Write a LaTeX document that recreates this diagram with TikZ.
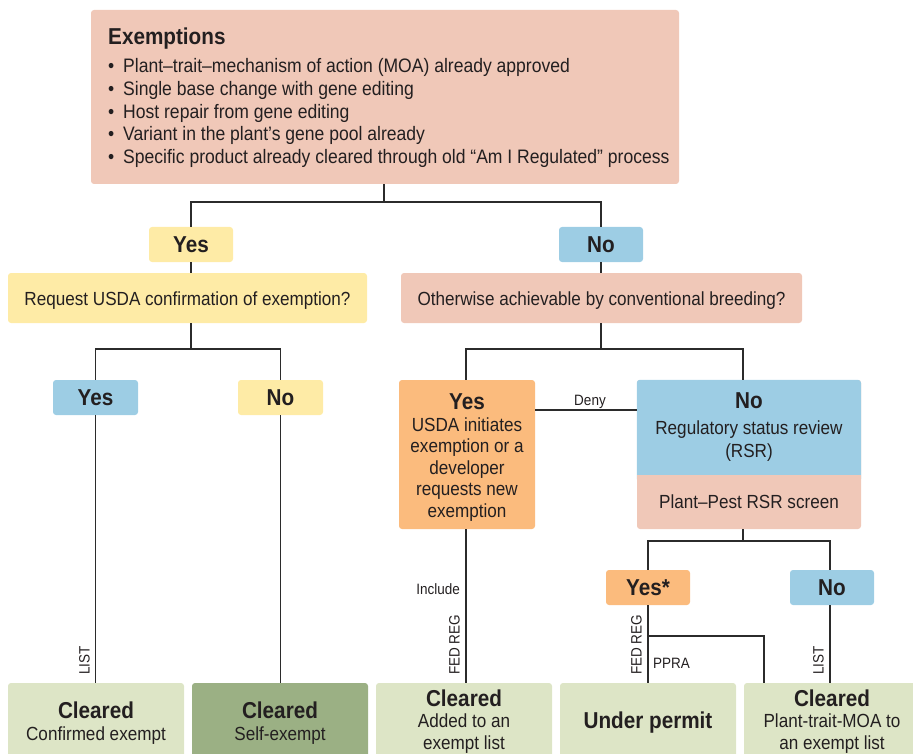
\documentclass[tikz,border=0pt]{standalone}
\usepackage{fontspec}
\setmainfont{Liberation Sans}[FakeStretch=0.9]
\definecolor{salmon}{HTML}{F0C8B8}
\definecolor{yel}{HTML}{FEEBA6}
\definecolor{blu}{HTML}{9DCDE4}
\definecolor{ora}{HTML}{FBBB7D}
\definecolor{lgreen}{HTML}{DDE5C6}
\definecolor{dgreen}{HTML}{9BB084}
\definecolor{txt}{HTML}{231F20}
\definecolor{ln}{HTML}{2B2B2B}
\newcommand\rg{\fontsize{19}{21.5}\selectfont}
\newcommand\rgb{\fontsize{19.5}{21.5}\selectfont}
\newcommand\bd{\fontsize{23}{24}\selectfont\bfseries}
\newcommand\sm{\fontsize{15}{17}\selectfont}
\begin{document}
\begin{tikzpicture}[x=1pt,y=-1pt,
  bx/.style={rounded corners=3pt, draw=none, inner sep=0pt, align=center, text=txt},
  conn/.style={draw=ln, line width=1.2pt},
  lab/.style={inner sep=1pt, text=txt, font=\sm},
  txtn/.style={inner sep=0pt, text=txt, align=center}]
\useasboundingbox (0,0) rectangle (913,754);
\clip (0,0) rectangle (913,754);
% top box
\node[bx, fill=salmon, minimum width=588pt, minimum height=174pt] (ex) at (385,97) {};
\node[txtn, anchor=base west, font=\bd] (ext) at (108,45) {Exemptions};
\node[txtn, anchor=base west, font=\rgb] (b1) at (108,73) {\makebox[15pt][l]{•}Plant–trait–mechanism of action (MOA) already approved};
\node[txtn, anchor=base west, font=\rgb] (b2) at (108,95.6) {\makebox[15pt][l]{•}Single base change with gene editing};
\node[txtn, anchor=base west, font=\rgb] (b3) at (108,118.2) {\makebox[15pt][l]{•}Host repair from gene editing};
\node[txtn, anchor=base west, font=\rgb] (b4) at (108,140.8) {\makebox[15pt][l]{•}Variant in the plant’s gene pool already};
\node[txtn, anchor=base west, font=\rgb] (b5) at (108,163.4) {\makebox[15pt][l]{•}Specific product already cleared through old “Am I Regulated” process};
% level 1
\node[bx, fill=yel, minimum width=84pt, minimum height=35pt, font=\bd] (yes1) at (191,244.5) {Yes};
\node[bx, fill=blu, minimum width=84pt, minimum height=35pt, font=\bd] (no1) at (601,244.5) {No};
\node[bx, fill=yel, minimum width=359pt, minimum height=50pt] (q1) at (187.5,298) {};
\node[txtn, font=\rg, anchor=base] (q1t) at (187.5,305) {Request USDA confirmation of exemption?};
\node[bx, fill=salmon, minimum width=401pt, minimum height=50pt] (q2) at (601.5,298) {};
\node[txtn, font=\rg, anchor=base] (q2t) at (601.5,305) {Otherwise achievable by conventional breeding?};
% level 2
\node[bx, fill=blu, minimum width=85pt, minimum height=35pt, font=\bd] (yes2) at (95.5,397.5) {Yes};
\node[bx, fill=yel, minimum width=85pt, minimum height=35pt, font=\bd] (no2) at (280.5,397.5) {No};
\node[bx, fill=ora, minimum width=136pt, minimum height=149pt] (yes3) at (467,454.5) {};
\node[txtn, font=\rg, anchor=base] (yes3t) at (467,517) {{\bd Yes}\\[0pt]USDA initiates\\exemption or a\\developer\\requests new\\exemption};
% RSR combo box
\node[bx, fill=salmon, minimum width=224pt, minimum height=149pt] (rsr) at (749,454.5) {};
\fill[blu, rounded corners=3pt] (rsr.north west) rectangle (861,482);
\fill[salmon] (637,475) rectangle (861,490);
\node[txtn, font=\rg, anchor=base] (rsrt) at (749,457) {{\bd No}\\[4pt]Regulatory status review\\[1.5pt](RSR)};
\node[txtn, font=\rg, anchor=base] (rsrb) at (749,508) {Plant–Pest RSR screen};
% level 3
\node[bx, fill=ora, minimum width=84pt, minimum height=35pt, font=\bd] (yes4) at (648,587.5) {Yes*};
\node[bx, fill=blu, minimum width=84pt, minimum height=35pt, font=\bd] (no4) at (832,587.5) {No};
% bottom boxes
\node[bx, fill=lgreen, minimum width=176pt, minimum height=80pt] (c1) at (96,723) {};
\node[bx, fill=dgreen, minimum width=176pt, minimum height=80pt] (c2) at (280,723) {};
\node[bx, fill=lgreen, minimum width=176pt, minimum height=80pt] (c3) at (464,723) {};
\node[bx, fill=lgreen, minimum width=176pt, minimum height=80pt] (c4) at (648,723) {};
\node[bx, fill=lgreen, minimum width=176pt, minimum height=80pt] (c5) at (832,723) {};
\node[txtn, font=\rg, anchor=base] (c1t) at (96,740) {{\bd Cleared}\\Confirmed exempt};
\node[txtn, font=\rg, anchor=base] (c2t) at (280,740) {{\bd Cleared}\\Self-exempt};
\node[txtn, font=\rg, anchor=base] (c3t) at (464,749) {{\bd Cleared}\\Added to an\\exempt list};
\node[txtn, font=\bd, anchor=base] (c4t) at (648,728) {Under permit};
\node[txtn, font=\rg, anchor=base] (c5t) at (832,749) {{\bd Cleared}\\Plant-trait-MOA to\\an exempt list};
% junctions
\coordinate (jA) at (384,202);
\coordinate (jB) at (191,349);
\coordinate (jC) at (601,349);
\coordinate (jY) at (466,349);
\coordinate (kD) at (743,349);
\coordinate (jE) at (743,541);
\coordinate (jF) at (648,541);
\coordinate (kF) at (830,541);
\coordinate (jG) at (648,636);
\coordinate (kG) at (764,636);
\coordinate (dn) at (590,410);
% connectors
\draw[conn] (ex.south -| jA) -- (jA);
\draw[conn] (yes1.north) |- (jA) -| (no1.north);
\draw[conn] (yes1.south) -- (yes1.south |- q1.north);
\draw[conn] (no1.south) -- (no1.south |- q2.north);
\draw[conn] (q1.south -| jB) -- (jB);
\draw[conn] (yes2.north) |- (jB) -| (no2.north);
\draw[conn] (q2.south -| jC) -- (jC);
\draw[conn] (yes3.north -| jY) -- (jY) -- (kD) -- (kD |- rsr.north);
\draw[conn] (rsr.south -| jE) -- (jE);
\draw[conn] (yes4.north) -- (jF) -- (kF) -- (kF |- no4.north);
\draw[conn] (yes3.east |- dn) -- (rsr.west |- dn);
\draw[conn] (yes2.south) -- (yes2.south |- c1.north);
\draw[conn] (no2.south) -- (no2.south |- c2.north);
\draw[conn] (yes3.south -| jY) -- (c3.north -| jY);
\draw[conn] (yes4.south) -- (yes4.south |- c4.north);
\draw[conn] (jG) -- (kG) -- (kG |- c5.north);
\draw[conn] (no4.south -| kF) -- (kF |- c5.north);
% labels
\node[lab, anchor=base] (deny) at (590,405) {Deny};
\node[lab, anchor=base east] (incl) at (461,594) {Include};
\node[lab, anchor=base west] (ppra) at (652,668) {PPRA};
\node[lab, rotate=90, anchor=south west] (list1) at (91,676) {LIST};
\node[lab, rotate=90, anchor=south west] (fr1) at (461,676) {FED REG};
\node[lab, rotate=90, anchor=south west] (fr2) at (643,676) {FED REG};
\node[lab, rotate=90, anchor=south west] (list2) at (825,676) {LIST};
\end{tikzpicture}
\end{document}
